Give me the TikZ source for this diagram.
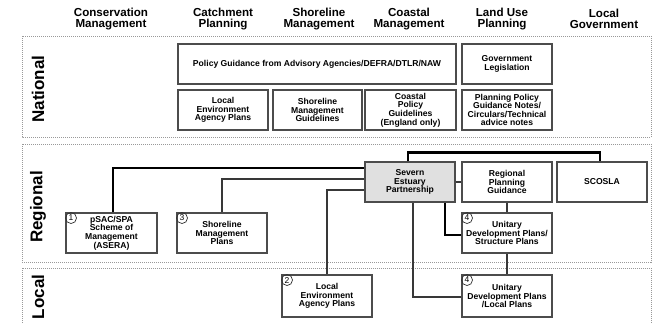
\documentclass[tikz,border=0pt]{standalone}
\usepackage{fontspec}
\setmainfont{Liberation Sans}
\usetikzlibrary{positioning,calc}

\definecolor{boxgray}{gray}{0.3}
\definecolor{sepfill}{gray}{0.88}
\definecolor{bandgray}{gray}{0.6}
\definecolor{linegray}{gray}{0.22}

\newcommand{\hdfont}{\fontsize{11.6}{10.4}\selectfont\bfseries}
\newcommand{\bxfont}{\fontsize{8.6}{8.6}\selectfont\bfseries}

\tikzset{
  band/.style={draw=bandgray, line width=0.5pt, dash pattern=on 1pt off 1pt},
  bandlabel/.style={rotate=90, font=\fontsize{17}{17}\selectfont\bfseries},
  colhead/.style={align=center, font=\hdfont},
  box/.style={draw=boxgray, line width=1.2pt, fill=white, align=center,
    font=\bxfont, inner sep=1pt, minimum width=90pt, minimum height=40pt},
  numring/.style={draw=black!80, circle, line width=0.7pt, inner sep=0pt,
    minimum size=11pt, font=\fontsize{8.5}{8.5}\selectfont},
  mainlink/.style={line width=2.6pt, black},
  sidelink/.style={line width=1.8pt, linegray},
}

\begin{document}
\begin{tikzpicture}[x=1pt,y=-1pt]
    \clip (0,0) rectangle (653,322);

    \draw[band] (22,36) rectangle (651,137);
    \draw[band] (22,144) rectangle (651,262);
    \draw[band] (22,268) rectangle (651,330);
    \node[bandlabel] (natl) at (38,89) {National};
    \node[bandlabel] (regl) at (38,207) {Regional};
    \node[bandlabel] (locl) at (38,297) {Local};

    \node[colhead] (hcons) at (111,19) {Conservation\\Management};
    \node[colhead] (hcatch) at (223,19) {Catchment\\Planning};
    \node[colhead] (hshore) at (319,19) {Shoreline\\Management};
    \node[colhead] (hcoast) at (409,19) {Coastal\\Management};
    \node[colhead] (hland) at (502,19) {Land Use\\Planning};
    \node[colhead] (hlocgov) at (604,19) {Local\\Government};

    \node[box, minimum width=278pt] (policy) at (317,64) {Policy Guidance from Advisory Agencies/DEFRA/DTLR/NAW};
    \node[box] (govleg) at (507,64) {Government\\Legislation};
    \node[box] (leap) at (223,110) {Local\\Environment\\Agency Plans};
    \node[box, minimum width=89pt] (smg) at (317.5,110) {Shoreline\\Management\\Guidelines};
    \node[box, minimum width=91pt] (cpg) at (410.5,110) {Coastal\\Policy\\Guidelines\\(England only)};
    \node[box] (ppg) at (507,110) {Planning Policy\\Guidance Notes/\\Circulars/Technical\\advice notes};

    \node[box, minimum width=91pt] (psac) at (111.5,233) {pSAC/SPA\\Scheme of\\Management\\(ASERA)};
    \node[box] (smp) at (222,233) {Shoreline\\Management\\Plans};
    \node[box, fill=sepfill] (sep) at (410,182) {Severn\\Estuary\\Partnership};
    \node[box] (rpg) at (507,182) {Regional\\Planning\\Guidance};
    \node[box] (scosla) at (602,182) {SCOSLA};
    \node[box] (udps) at (507,233) {Unitary\\Development Plans/\\Structure Plans};

    \node[box, minimum height=42pt] (leapl) at (327,296) {Local\\Environment\\Agency Plans};
    \node[box, minimum height=42pt] (udpl) at (507,296) {Unitary\\Development Plans\\/Local Plans};

    \node[numring, anchor=north west] (r1) at ([xshift=1.5pt,yshift=-1.5pt]psac.north west) {1};
    \node[numring, anchor=north west] (r3) at ([xshift=1.5pt,yshift=-1.5pt]smp.north west) {3};
    \node[numring, anchor=north west] (r4a) at ([xshift=1.5pt,yshift=-1.5pt]udps.north west) {4};
    \node[numring, anchor=north west] (r2) at ([xshift=1.5pt,yshift=-1.5pt]leapl.north west) {2};
    \node[numring, anchor=north west] (r4b) at ([xshift=1.5pt,yshift=-1.5pt]udpl.north west) {4};

    \draw[mainlink] ([xshift=1.5pt]psac.north) |- ([yshift=14pt]sep.west);
    \draw[sidelink] (smp.north) |- ([yshift=3pt]sep.west);
    \draw[sidelink] (leapl.north) |- ([yshift=-8pt]sep.west);
    \draw[mainlink] ([xshift=-2pt]sep.north) -- ++(0,-9) -| ([xshift=-2pt]scosla.north);
    \draw[sidelink] (sep.east) -- (rpg.west);
    \draw[sidelink] (rpg.south) -- (udps.north);
    \draw[mainlink] ([xshift=35pt]sep.south) |- ([yshift=-2pt]udps.west);
    \draw[sidelink] ([xshift=3pt]sep.south) |- ([yshift=-1pt]udpl.west);
    \draw[sidelink] (udps.south) -- (udpl.north);
\end{tikzpicture}
\end{document}
